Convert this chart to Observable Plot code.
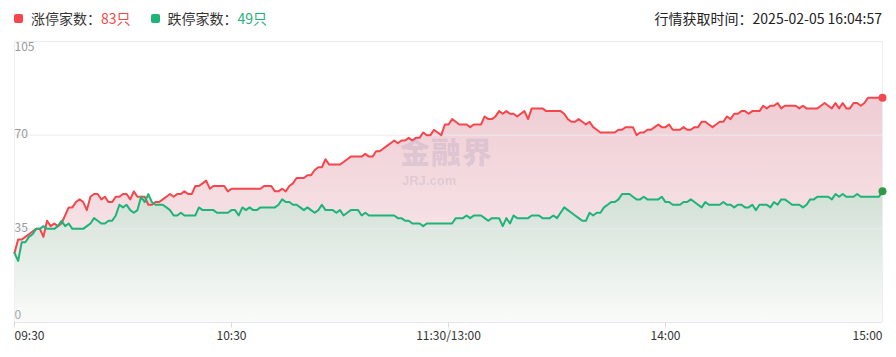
<!DOCTYPE html>
<html>
<head>
<meta charset="utf-8">
<script src="https://cdn.jsdelivr.net/npm/d3@7"></script>
<script src="https://cdn.jsdelivr.net/npm/@observablehq/plot@0.6"></script>
<style>
  html, body { margin: 0; padding: 0; background: #fff; }
  body { font-family: "Noto Sans CJK SC", "Noto Sans", sans-serif; }
  #wrap { position: relative; width: 896px; height: 357px; overflow: hidden; }
  #head { position: relative; height: 32px; font-size: 14px; color: #333; }
  .legend { position: absolute; left: 14px; top: 8px; display: flex; align-items: center; white-space: nowrap; line-height: 20px; }
  .sw { display: inline-block; width: 9px; height: 9px; border-radius: 2px; margin-right: 8px; }
  .item { display: flex; align-items: center; margin-right: 20px; }
  .stamp { position: absolute; right: 14px; top: 8px; line-height: 20px; white-space: nowrap; color: #222; }
  #chart svg { display: block; }
  .wm { position: absolute; pointer-events: none; color: rgba(120, 110, 160, 0.16); font-weight: 900; white-space: nowrap; }
  .wm.big { left: 400px; top: 135px; font-size: 30px; letter-spacing: 1px; line-height: 30px; }
  .wm.small { left: 402px; top: 174px; font-size: 13px; line-height: 13px; font-family: "Liberation Sans", sans-serif; font-weight: bold; }
</style>
</head>
<body>
<div id="wrap">
  <div id="head">
    <div class="legend" id="legend"></div>
    <div class="stamp" id="stamp"></div>
  </div>
  <div id="chart"></div>
  <div class="wm big">金融界</div>
  <div class="wm small">JRJ.com</div>
</div>
<script>
// ---- data (one value per minute of trading, 09:30 .. 11:30/13:00 .. 15:00) ----
const upCounts = [
  26,31,31,32,33,34,35,35,32,38,
  36,37,36,37,40,43,43,45,46,45,
  42,47,48,48,46,47,45,45,47,47,
  48,48,46,49,47,47,47,44,44,45,
  45,46,47,48,47,48,48,49,48,48,
  51,51,52,53,50,51,51,51,51,49,
  50,50,50,50,50,50,50,50,50,51,
  51,51,49,49,50,49,51,52,54,54,
  54,55,55,57,58,58,61,59,59,59,
  59,60,61,62,62,62,62,63,62,62,
  64,64,65,66,67,68,67,68,68,69,
  68,69,69,71,70,70,72,71,70,74,
  74,76,75,74,74,74,73,74,74,74,
  77,76,76,77,79,78,79,78,78,77,
  78,79,76,80,80,80,80,79,79,79,
  79,79,78,76,75,75,76,75,74,75,
  73,72,71,71,71,71,71,72,72,73,
  73,73,70,71,71,72,72,73,74,73,
  73,74,72,72,72,73,72,72,73,73,
  75,75,74,73,74,75,75,77,76,78,
  78,79,79,78,79,79,79,81,80,81,
  81,82,80,81,81,81,81,80,81,80,
  80,80,80,81,82,81,80,82,80,82,
  80,80,82,82,81,82,84,84,84,84,
  84
];
const downCounts = [
  26,23,30,30,32,33,35,35,36,35,
  35,35,36,38,36,37,35,35,35,35,
  36,37,39,38,37,37,38,38,40,44,
  43,44,42,41,42,47,45,48,45,44,
  44,44,43,42,40,40,41,40,40,40,
  40,43,42,42,42,42,41,41,41,41,
  42,42,40,43,42,43,42,42,43,43,
  43,43,43,44,46,45,45,44,44,43,
  42,43,42,41,42,44,42,42,42,41,
  42,40,41,42,42,42,40,41,40,40,
  40,40,40,40,40,40,39,39,38,38,
  37,37,37,36,37,37,37,37,37,37,
  37,37,39,39,39,40,39,40,40,40,
  39,38,39,39,39,36,39,37,40,39,
  39,39,39,40,40,40,39,39,39,40,
  39,41,43,42,41,40,39,38,38,41,
  40,41,41,43,44,45,45,46,48,48,
  48,47,46,46,47,46,46,46,46,47,
  45,45,44,44,44,45,45,46,45,44,
  43,45,44,44,44,44,45,44,44,43,
  44,44,43,43,44,42,44,44,44,43,
  45,44,46,46,45,44,44,44,43,44,
  46,46,47,47,47,47,46,48,47,48,
  47,47,47,48,47,47,47,47,47,47,
  49
];
const xTickMinutes = [0, 60, 120, 180, 240];
const xTickLabels = ["09:30", "10:30", "11:30/13:00", "14:00", "15:00"];
const yTicks = [0, 35, 70, 105];
const upLabel = "涨停家数：", upTotal = "83只";
const downLabel = "跌停家数：", downTotal = "49只";
const stampText = "行情获取时间：2025-02-05 16:04:57";

// ---- colours ----
const RED = "#f5474b", GREEN = "#1fb37a", GREEN_DOT = "#2e9a46";

// ---- header ----
document.getElementById("legend").innerHTML =
  `<span class="item"><span class="sw" style="background:${RED}"></span>${upLabel}<span style="color:${RED}">${upTotal}</span></span>` +
  `<span class="item"><span class="sw" style="background:${GREEN}"></span>${downLabel}<span style="color:${GREEN}">${downTotal}</span></span>`;
document.getElementById("stamp").textContent = stampText;

// ---- tables ----
const upData = upCounts.map((v, i) => ({m: i, v}));
const downData = downCounts.map((v, i) => ({m: i, v}));
const xTicks = xTickMinutes.map((m, i) => ({m, label: xTickLabels[i]}));
const lastUp = upData[upData.length - 1];
const lastDown = downData[downData.length - 1];

const defs = () => {
  const ns = "http://www.w3.org/2000/svg";
  const d = document.createElementNS(ns, "defs");
  d.innerHTML = `
    <linearGradient id="gRed" x1="0" y1="0" x2="0" y2="1">
      <stop offset="0" stop-color="#efcdd4"/>
      <stop offset="1" stop-color="#fbf0f2"/>
    </linearGradient>
    <linearGradient id="gGreen" x1="0" y1="0" x2="0" y2="1">
      <stop offset="0" stop-color="#d1e0d5"/>
      <stop offset="1" stop-color="#fafbfa"/>
    </linearGradient>`;
  return d;
};

const fontFamily = '"Noto Sans CJK SC", "Noto Sans", sans-serif';
const chart = Plot.plot({
  width: 896,
  height: 325,
  marginTop: 9,
  marginBottom: 35,
  marginLeft: 14,
  marginRight: 14,
  x: {domain: [0, 240], axis: null},
  y: {domain: [0, 105], axis: null},
  style: {fontFamily, fontSize: "12px", background: "transparent", overflow: "visible"},
  marks: [
    defs,
    Plot.areaY(upData, {x: "m", y: "v", fill: "url(#gRed)"}),
    Plot.areaY(downData, {x: "m", y: "v", fill: "url(#gGreen)"}),
    Plot.ruleY(yTicks.filter(d => d > 0), {y: d => d, stroke: "#e9ebef", strokeWidth: 1}),
    Plot.ruleY([0], {y: d => d, stroke: "#e3e6ea", strokeWidth: 1}),
    Plot.ruleX([0, 240], {x: d => d, stroke: "#eceef2", strokeWidth: 1}),
    Plot.ruleX(xTicks.slice(0, 4), {x: "m", y1: 0, y2: -2, stroke: "#d8dce2"}),
    Plot.line(upData, {x: "m", y: "v", stroke: RED, strokeWidth: 2, strokeLinejoin: "round"}),
    Plot.line(downData, {x: "m", y: "v", stroke: GREEN, strokeWidth: 2, strokeLinejoin: "round"}),
    Plot.dot([lastUp], {x: "m", y: "v", r: 4, fill: RED}),
    Plot.dot([lastDown], {x: "m", y: "v", r: 4, fill: GREEN_DOT}),
    // y labels, kept inside the frame
    Plot.text(yTicks.filter(d => d === 105), {x: 0, y: d => d, text: d => String(d), textAnchor: "start", dy: 6, fill: "#999"}),
    Plot.text(yTicks.filter(d => d > 0 && d < 105), {x: 0, y: d => d, text: d => String(d), textAnchor: "start", dy: -1, fill: "#999"}),
    Plot.text(yTicks.filter(d => d === 0), {x: 0, y: d => d, text: d => String(d), textAnchor: "start", dy: -7, fill: "#aaa"}),
    // x labels
    Plot.text(xTicks.slice(0, 1), {x: "m", y: 0, text: "label", textAnchor: "start", dy: 14, fill: "#333"}),
    Plot.text(xTicks.slice(1, 4), {x: "m", y: 0, text: "label", textAnchor: "middle", dy: 14, fill: "#333"}),
    Plot.text(xTicks.slice(4), {x: "m", y: 0, text: "label", textAnchor: "end", dy: 14, fill: "#333"})
  ]
});
document.getElementById("chart").appendChild(chart);
</script>
</body>
</html>
